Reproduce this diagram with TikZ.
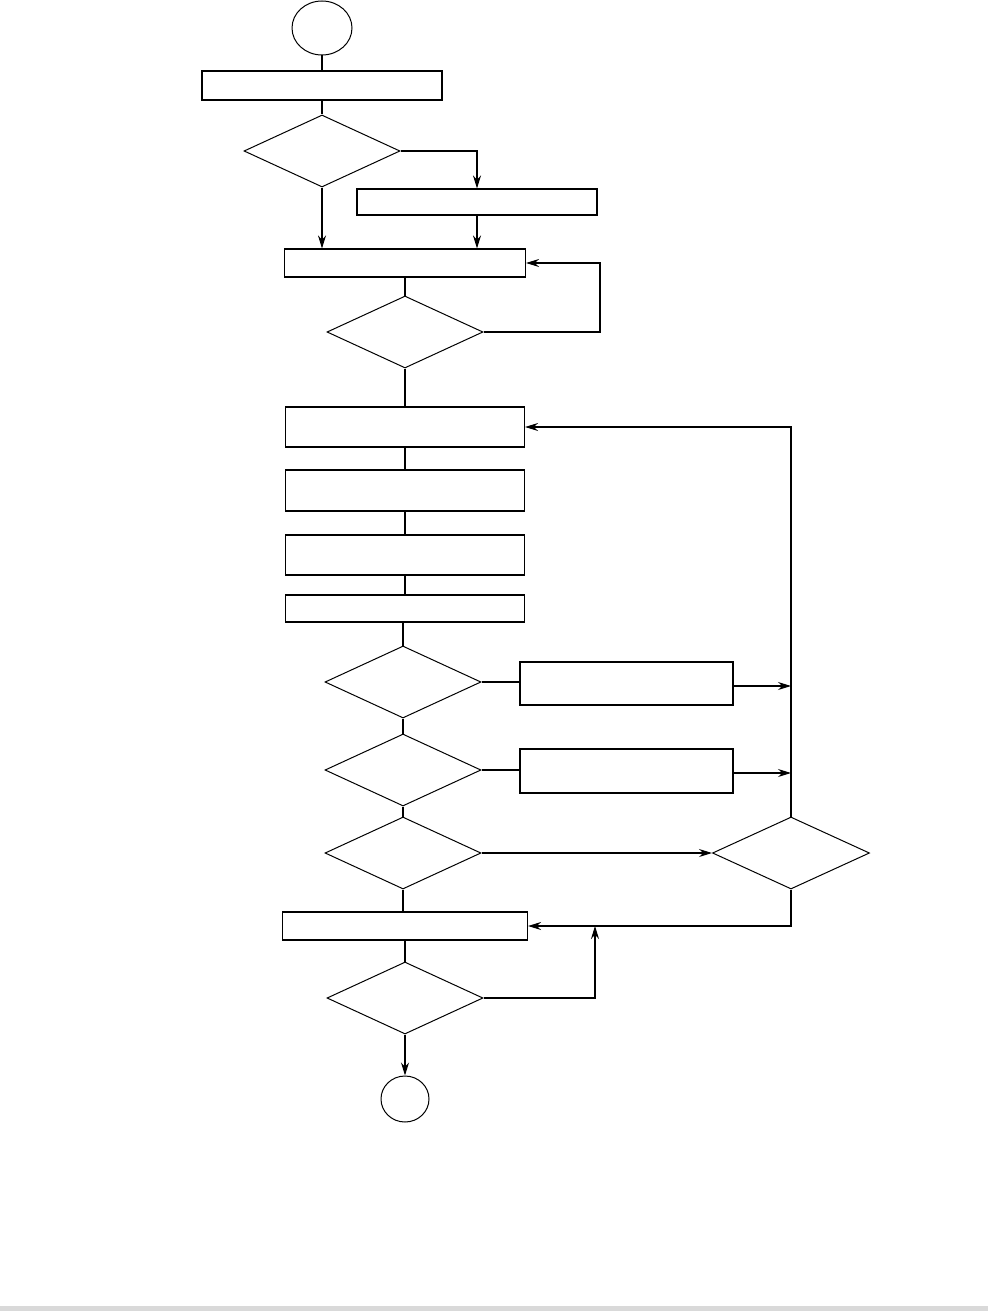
\documentclass[tikz,border=0pt]{standalone}
\usetikzlibrary{shapes.geometric,arrows.meta}
\begin{document}
\begin{tikzpicture}[x=1pt,y=-1pt,
  line/.style={line width=1.1pt},
  box/.style={draw,rectangle,inner sep=0pt,line width=1.1pt},
  dec/.style={draw,diamond,inner sep=0pt,minimum width=156pt,minimum height=72pt,line width=1pt},
  term/.style={draw,ellipse,inner sep=0pt,line width=1pt},
  arr/.style={line,-{Stealth[length=13pt,width=8pt]}}]
\useasboundingbox (0,0) rectangle (988,1311);
\fill[gray!30] (0,1306) rectangle (988,1311);
% nodes
\node[term,minimum width=60pt,minimum height=54pt] (start) at (322,28) {};
\node[box,minimum width=240pt,minimum height=29pt] (box1) at (322,85.5) {};
\node[dec] (d1) at (322,151) {};
\node[box,minimum width=240pt,minimum height=26pt] (box2) at (477,202) {};
\node[box,minimum width=241pt,minimum height=28pt] (box3) at (405,263) {};
\node[dec] (d2) at (405,332) {};
\node[box,minimum width=239pt,minimum height=40pt] (box4) at (405,427) {};
\node[box,minimum width=239pt,minimum height=41pt] (box5) at (405,490.5) {};
\node[box,minimum width=239pt,minimum height=40pt] (box6) at (405,555) {};
\node[box,minimum width=239pt,minimum height=27pt] (box7) at (405,608.5) {};
\node[dec] (d3) at (403,682) {};
\node[box,minimum width=213pt,minimum height=43pt] (box8) at (626.5,683.5) {};
\node[dec] (d4) at (403,770) {};
\node[box,minimum width=213pt,minimum height=44pt] (box9) at (626.5,771) {};
\node[dec] (d5) at (403,853) {};
\node[dec,minimum width=157pt] (d6) at (791,853) {};
\node[box,minimum width=245pt,minimum height=28pt] (box10) at (405,926) {};
\node[dec] (d7) at (405,998) {};
\node[term,minimum width=48pt,minimum height=46pt] (end) at (405,1099) {};
% helper coordinates
\coordinate (c1) at (600,263);
\coordinate (j1) at (791,686);
\coordinate (j2) at (791,773);
\coordinate (j3) at (595,926);
% connectors
\draw[line] (start) -- (box1);
\draw[line] (box1) -- (d1);
\draw[arr] (d1.east) -| (box2.north);
\draw[arr] (d1.south) -- (d1.south |- box3.north);
\draw[arr] (box2.south) -- (box2.south |- box3.north);
\draw[line] (box3) -- (d2);
\draw[arr] (d2.east) -| (c1) -- (box3.east);
\draw[line] (d2) -- (box4);
\draw[line] (box4) -- (box5);
\draw[line] (box5) -- (box6);
\draw[line] (box6) -- (box7);
\draw[line] (box7.south -| d3.north) -- (d3.north);
\draw[line] (d3) -- (d4);
\draw[line] (d4) -- (d5);
\draw[line] (d5.south) -- (d5.south |- box10.north);
\draw[line] (box10) -- (d7);
\draw[line] (d3.east) -- (box8.west |- d3.east);
\draw[line] (d4.east) -- (box9.west |- d4.east);
\draw[arr] (box8.east |- j1) -- (j1);
\draw[arr] (box9.east |- j2) -- (j2);
\draw[arr] (d5.east) -- (d6.west);
\draw[arr] (d6.north) |- (box4.east);
\draw[arr] (d6.south) |- (box10.east);
\draw[arr] (d7.east) -| (j3);
\draw[arr] (d7) -- (end);
\end{tikzpicture}
\end{document}
